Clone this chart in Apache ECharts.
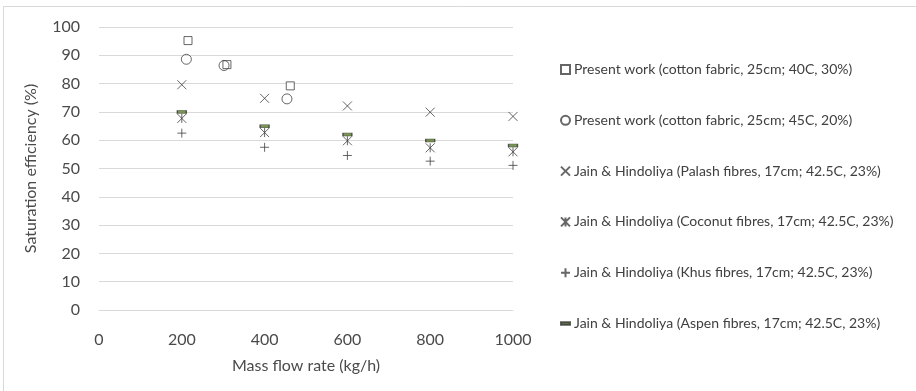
<!DOCTYPE html>
<html>
<head>
<meta charset="utf-8">
<script src="https://cdn.jsdelivr.net/npm/echarts@6/dist/echarts.min.js"></script>
<style>
  html, body { margin: 0; padding: 0; background: #fff; }
  #chart { width: 916px; height: 391px; }
</style>
</head>
<body>
<div id="chart"></div>
<script>
// Mass flow rate (kg/h) for the literature series
const flowRates = [200, 400, 600, 800, 1000];

// Present work: [mass flow rate, saturation efficiency]
const present40C = [[215, 95.2], [309, 86.7], [462, 79.2]];
const present45C = [[211, 88.6], [302, 86.4], [454, 74.6]];

// Jain & Hindoliya saturation efficiency (%) at each flow rate
const palash  = [79.6, 74.8, 72.1, 69.9, 68.4];
const coconut = [67.7, 62.7, 59.8, 57.3, 55.9];
const khus    = [62.5, 57.5, 54.6, 52.6, 51.1];
const aspen   = [70.0, 64.9, 62.0, 59.9, 58.1];

const seriesNames = [
  'Present work (cotton fabric, 25cm; 40C, 30%)',
  'Present work (cotton fabric, 25cm; 45C, 20%)',
  'Jain & Hindoliya (Palash fibres, 17cm; 42.5C, 23%)',
  'Jain & Hindoliya (Coconut fibres, 17cm; 42.5C, 23%)',
  'Jain & Hindoliya (Khus fibres, 17cm; 42.5C, 23%)',
  'Jain & Hindoliya (Aspen fibres, 17cm; 42.5C, 23%)'
];

const pair = vals => flowRates.map((x, i) => [x, vals[i]]);

const INK = '#404040';
const LABEL = '#4a4a4a';
const FONT = 'Lato, "Open Sans", sans-serif';

const SYM_X    = 'path://M0,0L10,10M10,0L0,10';
const SYM_STAR = 'path://M0,0L10,10M10,0L0,10M5,0L5,10';
const SYM_PLUS = 'path://M5,0L5,10M0,5L10,5';
const SYM_DASH = 'path://M0,0L10,0L10,3L0,3Z';

const strokeStyle = { color: 'rgba(0,0,0,0)', borderColor: INK, borderWidth: 1 };

const chart = echarts.init(document.getElementById('chart'), null, { renderer: 'canvas' });

chart.setOption({
  animation: false,
  backgroundColor: '#fff',
  textStyle: { fontFamily: FONT },
  graphic: [{
    type: 'rect',
    shape: { x: 3.5, y: 6.5, width: 930, height: 400 },
    style: { fill: 'none', stroke: '#d9d9d9', lineWidth: 1 },
    silent: true
  }],
  grid: { left: 99, right: 403, top: 27, bottom: 81 },
  xAxis: {
    type: 'value',
    min: 0, max: 1000, interval: 200,
    name: 'Mass flow rate (kg/h)',
    nameLocation: 'middle',
    nameGap: 48,
    nameTextStyle: { fontSize: 16, color: LABEL, fontFamily: FONT },
    axisLine: { show: true, lineStyle: { color: '#d9d9d9' } },
    axisTick: { show: false },
    splitLine: { show: false },
    axisLabel: { fontSize: 16, color: LABEL, margin: 22, fontFamily: FONT, formatter: v => String(v) }
  },
  yAxis: {
    type: 'value',
    min: 0, max: 100, interval: 10,
    name: 'Saturation efficiency (%)',
    nameLocation: 'middle',
    nameGap: 60,
    nameTextStyle: { fontSize: 16, color: LABEL, fontFamily: FONT },
    axisLine: { show: false },
    axisTick: { show: false },
    splitLine: { lineStyle: { color: '#d9d9d9' } },
    axisLabel: { fontSize: 16, color: LABEL, margin: 19, fontFamily: FONT }
  },
  legend: {
    orient: 'vertical',
    left: 555,
    top: 57,
    itemWidth: 9,
    itemHeight: 9,
    itemGap: 35.8,
    textStyle: { fontSize: 14, color: INK, fontFamily: FONT, lineHeight: 15, padding: [0, 0, 0, -1] },
    data: seriesNames
  },
  series: [
    {
      name: seriesNames[0], type: 'scatter', data: present40C,
      symbol: 'rect', symbolSize: 8,
      itemStyle: { color: '#fff', borderColor: INK, borderWidth: 1 }
    },
    {
      name: seriesNames[1], type: 'scatter', data: present45C,
      symbol: 'circle', symbolSize: 10,
      itemStyle: { color: 'rgba(255,255,255,0)', borderColor: INK, borderWidth: 1 }
    },
    {
      name: seriesNames[2], type: 'scatter', data: pair(palash),
      symbol: SYM_X, symbolSize: 9, itemStyle: strokeStyle
    },
    {
      name: seriesNames[3], type: 'scatter', data: pair(coconut),
      symbol: SYM_STAR, symbolSize: 9, itemStyle: strokeStyle
    },
    {
      name: seriesNames[4], type: 'scatter', data: pair(khus),
      symbol: SYM_PLUS, symbolSize: 9, itemStyle: strokeStyle
    },
    {
      name: seriesNames[5], type: 'scatter', data: pair(aspen),
      symbol: SYM_DASH, symbolSize: [9, 3],
      itemStyle: { color: '#5a7b2c', borderColor: '#333', borderWidth: 0.8 }
    }
  ]
});
</script>
</body>
</html>
